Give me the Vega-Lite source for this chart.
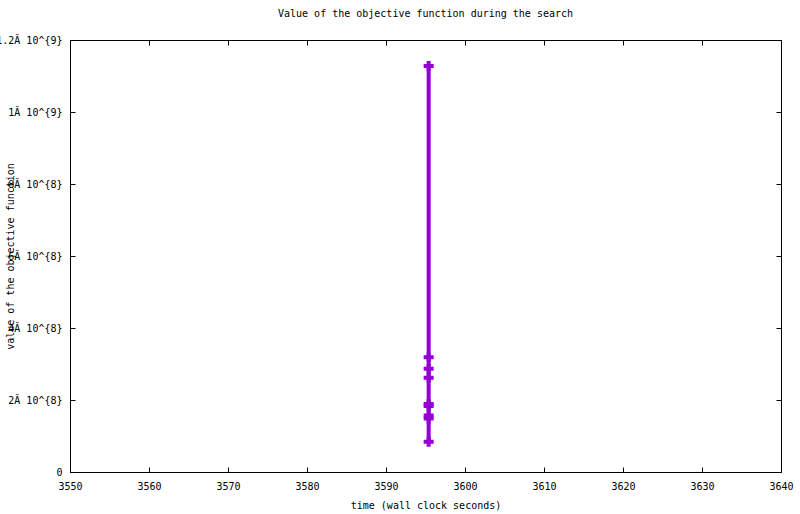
{
  "$schema": "https://vega.github.io/schema/vega-lite/v6.json",
  "autosize": "none",
  "width": 711,
  "height": 432,
  "padding": {"left": 70, "top": 40, "right": 19, "bottom": 42},
  "background": "white",
  "title": {"text": "Value of the objective function during the search", "font": "DejaVu Sans Mono", "fontSize": 10, "fontWeight": "normal", "color": "black", "offset": 16},
  "config": {
    "view": {"stroke": "black", "strokeWidth": 1},
    "axis": {"domain": false, "grid": false, "labelFont": "DejaVu Sans Mono", "labelFontSize": 10, "labelColor": "black", "titleFont": "DejaVu Sans Mono", "titleFontSize": 10, "titleFontWeight": "normal", "titleColor": "black", "tickColor": "black", "tickSize": -5, "labelFlush": false, "labelOverlap": false}
  },
  "data": {"values": [
    {"time": 3595.4, "value": 1128000000},
    {"time": 3595.4, "value": 318600000},
    {"time": 3595.4, "value": 287000000},
    {"time": 3595.4, "value": 262000000},
    {"time": 3595.4, "value": 188900000},
    {"time": 3595.4, "value": 183300000},
    {"time": 3595.4, "value": 156900000},
    {"time": 3595.4, "value": 148600000},
    {"time": 3595.4, "value": 84000000}
  ]},
  "layer": [
    {
      "mark": {"type": "line", "color": "#9400D3", "strokeWidth": 4, "point": {"shape": "cross", "size": 100, "filled": true, "color": "#9400D3", "opacity": 1}},
      "encoding": {
        "x": {"field": "time", "type": "quantitative", "scale": {"domain": [3550, 3640], "nice": false, "zero": false},
              "axis": {"orient": "bottom", "values": [3550, 3560, 3570, 3580, 3590, 3600, 3610, 3620, 3630, 3640], "format": "d", "labelPadding": 14, "title": "time (wall clock seconds)", "titleX": 355.5, "titleY": 33, "titleBaseline": "middle"}},
        "y": {"field": "value", "type": "quantitative", "scale": {"domain": [0, 1200000000], "nice": false},
              "axis": {"orient": "left", "values": [0, 200000000, 400000000, 600000000, 800000000, 1000000000, 1200000000], "labelPadding": 13,
                       "labelExpr": "datum.value == 0 ? '0' : (datum.value >= 1000000000 ? format(datum.value/1000000000, '.2~g') + 'Ă 10^{9}' : format(datum.value/100000000, '.2~g') + 'Ă 10^{8}')",
                       "title": "value of the objective function", "titleX": -60, "titleY": 216, "titleAngle": -90, "titleAlign": "center", "titleBaseline": "middle"}},
        "order": {"field": "value", "type": "quantitative"}
      }
    },
    {
      "mark": {"type": "point", "opacity": 0},
      "encoding": {
        "x": {"field": "time", "type": "quantitative", "axis": {"orient": "top", "values": [3550, 3560, 3570, 3580, 3590, 3600, 3610, 3620, 3630, 3640], "labels": false, "title": null}},
        "y": {"field": "value", "type": "quantitative", "axis": {"orient": "right", "values": [0, 200000000, 400000000, 600000000, 800000000, 1000000000, 1200000000], "labels": false, "title": null}}
      }
    }
  ],
  "resolve": {"axis": {"x": "independent", "y": "independent"}}
}
